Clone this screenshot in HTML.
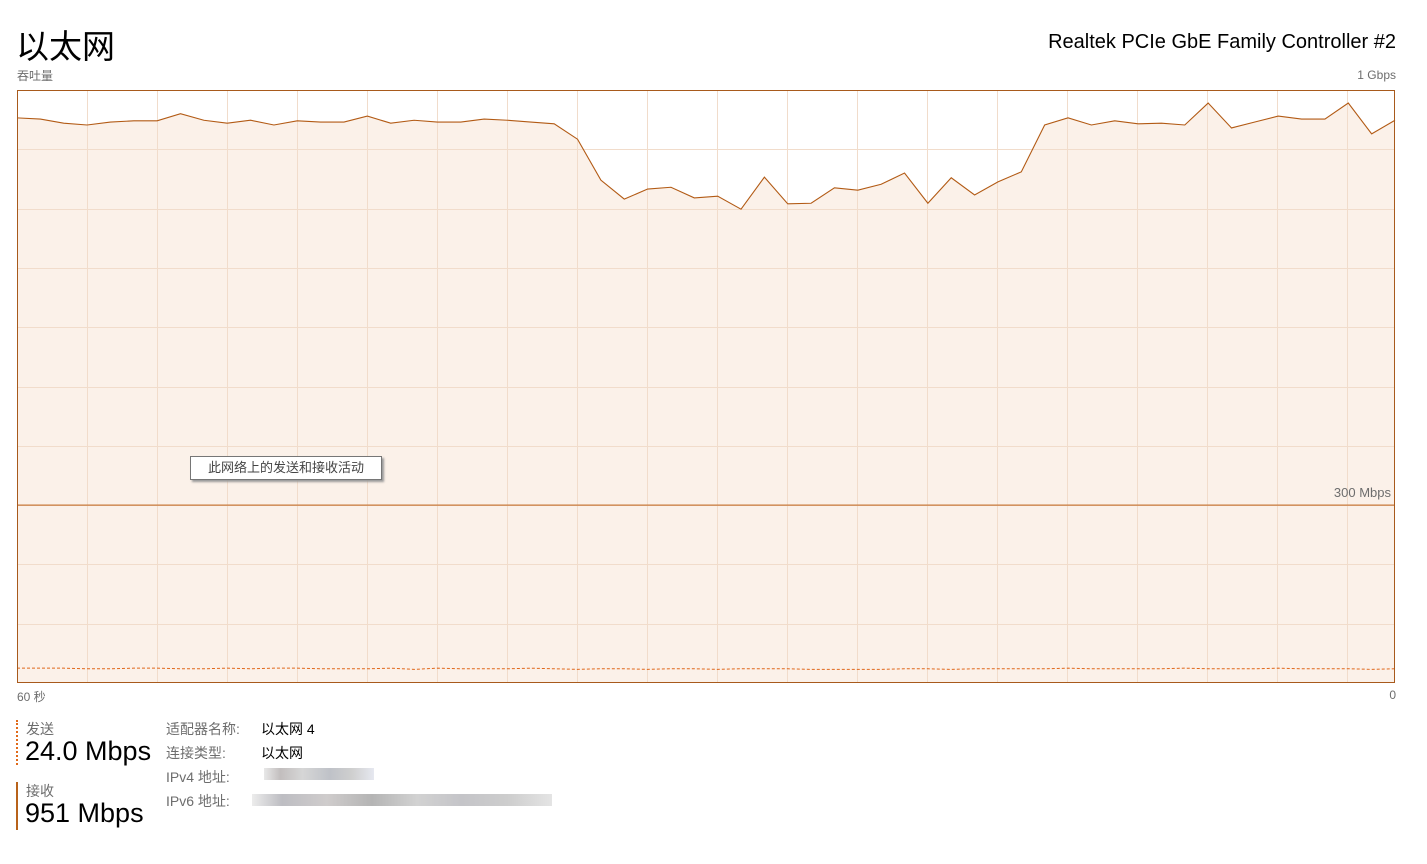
<!DOCTYPE html>
<html><head><meta charset="utf-8"><style>
body{margin:0;width:1427px;height:864px;background:#fff;font-family:"Liberation Sans","Noto Sans CJK SC",sans-serif;position:relative;overflow:hidden}
.a{position:absolute;white-space:nowrap}
.g{color:#6d6d6d;font-size:13px}
.blur{position:absolute;height:12px}
</style></head><body>
<div class="a" style="left:16px;top:20px;font-size:33px;color:#000">以太网</div>
<div class="a" style="right:31px;top:31px;font-size:20px;color:#000">Realtek PCIe GbE Family Controller #2</div>
<div class="a g" style="left:17px;top:67px;font-size:12px">吞吐量</div>
<div class="a g" style="right:31px;top:68px;font-size:12px">1 Gbps</div>
<svg id="chart" class="a" style="left:0;top:0" width="1427" height="864"></svg>
<div class="a" style="left:190px;top:456px;width:190px;height:22px;border:1px solid #767676;background:#fff;box-shadow:2px 2px 2px #999;font-size:13px;color:#444;line-height:22px;text-align:center">此网络上的发送和接收活动</div>
<div class="a g" style="right:36px;top:485px">300 Mbps</div>
<div class="a g" style="left:17px;top:688px;font-size:12px">60 秒</div>
<div class="a g" style="right:31px;top:688px;font-size:12px">0</div>
<div class="a" style="left:16px;top:720px;height:45px;border-left:2px dotted #e06a1a"></div>
<div class="a g" style="left:26px;top:719px;font-size:14px">发送</div>
<div class="a" style="left:25px;top:736px;font-size:27px;color:#000">24.0 Mbps</div>
<div class="a" style="left:16px;top:782px;height:48px;border-left:2px solid #b8621a"></div>
<div class="a g" style="left:26px;top:781px;font-size:14px">接收</div>
<div class="a" style="left:25px;top:798px;font-size:27px;color:#000">951 Mbps</div>
<div class="a g" style="left:166px;top:719px;font-size:14px">适配器名称:</div>
<div class="a" style="left:261px;top:719px;font-size:14px">以太网 4</div>
<div class="a g" style="left:166px;top:743px;font-size:14px">连接类型:</div>
<div class="a" style="left:261px;top:743px;font-size:14px">以太网</div>
<div class="a g" style="left:166px;top:767px;font-size:14px">IPv4 地址:</div>
<div class="a g" style="left:166px;top:791px;font-size:14px">IPv6 地址:</div>
<div class="blur" style="left:264px;top:768px;width:110px;background:linear-gradient(90deg,#e8e8e8,#c2bebe 15%,#d6d6d6 35%,#bfc2c8 60%,#cfcfcf 80%,#e6e8f0)"></div>
<div class="blur" style="left:252px;top:794px;width:300px;background:linear-gradient(90deg,#ececec,#bdbdc2 10%,#cfcccc 25%,#b4b4b4 40%,#d2d2d2 55%,#c4c4c8 70%,#cdcdcd 85%,#e4e4e4)"></div>
<script>
const recvValues=[953,951,944,941,946,948,948,960,949,944,949,941,948,946,946,956,944,949,946,946,951,949,946,943,917,848,816,833,836,818,821,799,853,808,809,835,831,841,860,809,852,823,845,862,941,953,941,948,943,944,941,978,936,946,956,951,951,978,926,949];
const sendValues=[25,25,25,24,24,25,25,24,24,25,24,25,25,24,24,24,25,23,25,24,24,24,25,24,23,24,24,23,24,24,23,24,24,24,23,23,23,23,24,24,23,24,24,24,24,25,24,24,24,24,25,24,24,24,25,24,24,24,23,24];
const maxMbps=1000;
const L=17,R=1395,T=90,B=683;
const svg=document.getElementById('chart');const NS='http://www.w3.org/2000/svg';
const xs=i=>L+i*(R-L)/(recvValues.length-1);
const ys=v=>B-v/maxMbps*(B-T);
function mk(t,a){const e=document.createElementNS(NS,t);for(const k in a)e.setAttribute(k,a[k]);svg.appendChild(e);return e;}
let pts=recvValues.map((v,i)=>xs(i)+','+ys(v)).join(' ');
const area=mk('polygon',{points:L+','+B+' '+pts+' '+R+','+B,fill:'#fbf1e9'});


for(let x=87.5;x<R;x+=70){const l=mk('line',{x1:x,x2:x,y1:T,y2:B,stroke:'#f1dccb','stroke-width':1});

}
for(let i=1;i<10;i++){const y=Math.round(T+i*(B-T)/10)+0.5;const l=mk('line',{x1:L,x2:R,y1:y,y2:y,stroke:'#f1dccb','stroke-width':1});

}
const rl=mk('polyline',{points:pts,fill:'none',stroke:'#b25a14','stroke-width':1.1});


const ref=mk('line',{x1:L,x2:R,y1:ys(300),y2:ys(300),stroke:'#c87a3c','stroke-width':1.3});


const sl=mk('polyline',{points:sendValues.map((v,i)=>xs(i)+','+ys(v)).join(' '),fill:'none',stroke:'#e0681c','stroke-width':1,'stroke-dasharray':'3,2'});


const fr=mk('rect',{x:L+0.5,y:T+0.5,width:R-L-1,height:B-T-1,fill:'none',stroke:'#a85a1c','stroke-width':1});


</script>
</body></html>
